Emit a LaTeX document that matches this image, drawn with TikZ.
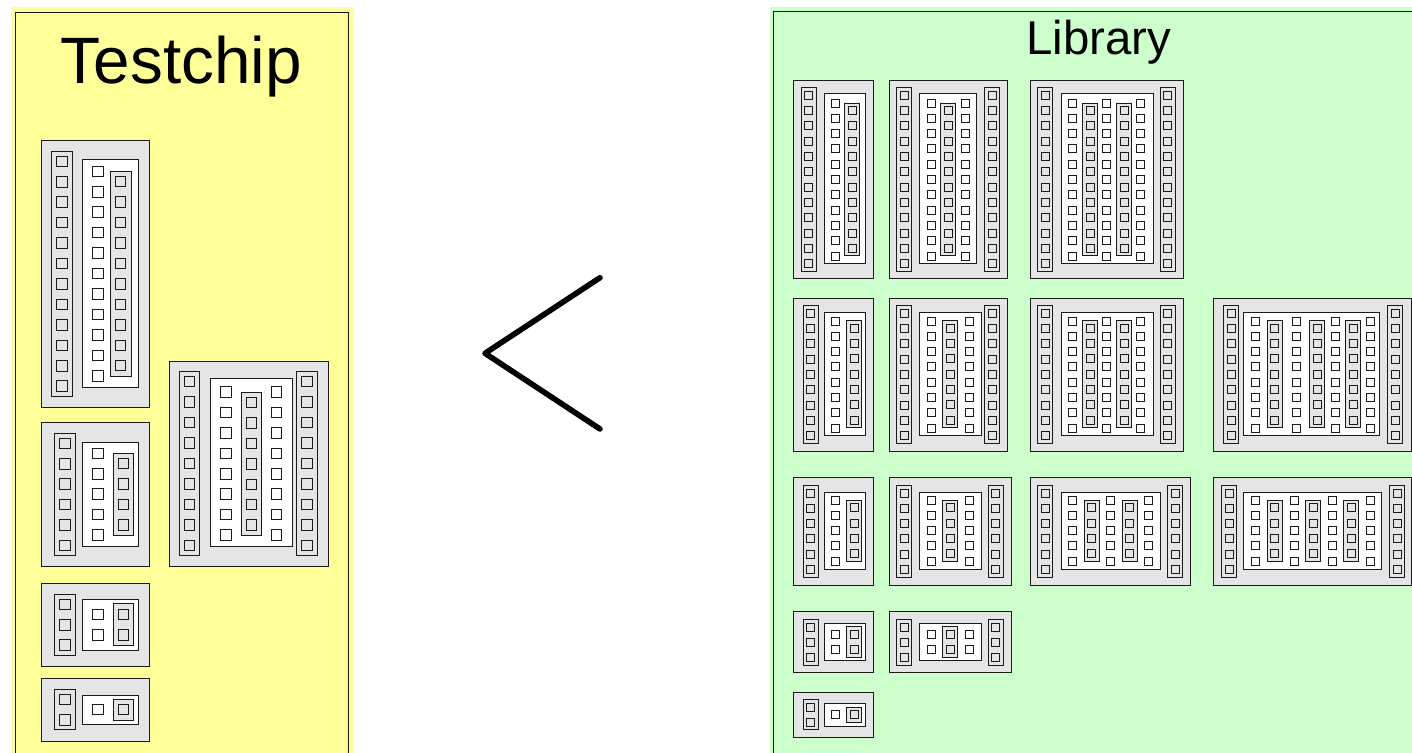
\documentclass[tikz,border=0pt]{standalone}
\usepackage{fontspec}
\setmainfont{Liberation Sans}
\definecolor{chipyellow}{HTML}{FFFF99}
\definecolor{libgreen}{HTML}{CCFFCC}
\definecolor{chipgray}{HTML}{E5E5E5}
\definecolor{edgecol}{HTML}{1A1A1A}
\tikzset{
  edge/.style={fill=edgecol},
  cellbox/.style={fill=chipgray},
  whitebox/.style={fill=white},
  graysq/.style={fill=chipgray},
  whitesq/.style={fill=white},
  title/.style={inner sep=0pt,anchor=base,text=black},
  chevron/.style={draw=black,line width=2.8pt,line cap=round,line join=round}
}
\newcommand{\Pitch}{15.33}
\newcommand{\Sq}{8}
\newcommand{\HW}{7.6}
% outlined rectangle on the pixel grid, outline built from two fills: style, x0, y0, x1, y1
\newcommand{\framedrect}[5]{%
  \pgfmathsetmacro{\xa}{round(#2-0.5)}%
  \pgfmathsetmacro{\ya}{round(#3-0.5)}%
  \pgfmathsetmacro{\xb}{round(#4-0.5)}%
  \pgfmathsetmacro{\yb}{round(#5-0.5)}%
  \fill[edge] ({\xa+0.05},{\ya+0.05}) rectangle ({\xb+0.95},{\yb+0.95});
  \fill[#1] ({\xa+1.05},{\ya+1.05}) rectangle ({\xb-0.05},{\yb-0.05});}
% squares: style, centre x, first centre y, count
\newcommand{\sqcol}[4]{%
  \foreach \i in {1,...,#4}{%
    \pgfmathsetmacro{\yy}{#3+(\i-1)*\Pitch}%
    \framedrect{#1}{#2-\Sq/2}{\yy-\Sq/2}{#2+\Sq/2}{\yy+\Sq/2}
  }}
% grey strip with squares: centre x, first centre y, count, padding
\newcommand{\strip}[4]{%
  \framedrect{graysq}{#1-\HW}{#2-#4}{#1+\HW}{#2+(#3-1)*\Pitch+#4}
  \sqcol{graysq}{#1}{#2}{#3}}
\newcommand{\cell}[4]{\framedrect{cellbox}{#1}{#2}{#3}{#4}}
\newcommand{\wbox}[4]{\framedrect{whitebox}{#1}{#2}{#3}{#4}}
\begin{document}
\begin{tikzpicture}[x=0.5pt,y=-0.5pt]
\clip (0,0) rectangle (1412,753);
\fill[white] (0,0) rectangle (1412,753);
% panels
\fill[chipyellow] (11.3,7) rectangle (354,770);
\framedrect{fill=chipyellow}{15.7}{12}{348.3}{780}
\fill[libgreen] (770,7) rectangle (1430,770);
\framedrect{fill=libgreen}{773.7}{11.7}{1440}{780}
\node[title,font=\fontsize{32.8pt}{33pt}\selectfont] (testchip) at (181.3,83.3) {Testchip};
\node[title,font=\fontsize{23.7pt}{24pt}\selectfont] (library) at (1098.7,55) {Library};
% comparison sign
\coordinate (chevtop) at (600,277.7);
\coordinate (chevtip) at (485,353.3);
\coordinate (chevbot) at (600,429);
\draw[chevron] (chevtop) -- (chevtip) -- (chevbot);

% ---------- Testchip ----------
\renewcommand{\Pitch}{20.45}\renewcommand{\Sq}{10.5}\renewcommand{\HW}{10.3}
% 12 rows
\cell{41}{140.7}{149.5}{407.3}
\strip{62}{161.3}{12}{10}
\wbox{82.7}{159.3}{138.7}{387.3}
\sqcol{whitesq}{98}{171.3}{11}
\strip{120.7}{181.7}{10}{10.4}
% 6 rows
\cell{41}{422.3}{149.5}{566}
\strip{65}{443.3}{6}{10.2}
\wbox{82.7}{442.7}{138.7}{546}
\sqcol{whitesq}{98}{453.3}{5}
\strip{123.3}{463.7}{4}{10}
% 9 rows, two strips
\cell{169.3}{361}{328}{566}
\strip{189.5}{381.7}{9}{10.5}
\strip{307}{381.7}{9}{10.5}
\wbox{210}{378.7}{292.7}{546}
\sqcol{whitesq}{226}{392}{8}
\sqcol{whitesq}{276.3}{392}{8}
\strip{251.3}{402.5}{7}{10}
% 3 rows
\cell{41}{583.7}{149.5}{666.3}
\strip{65}{604.3}{3}{10.2}
\wbox{82.7}{599.7}{138.7}{650}
\sqcol{whitesq}{98}{614.7}{2}
\strip{123.3}{614.7}{2}{10.8}
% 2 rows
\cell{41}{678.3}{149.5}{741}
\strip{65}{699.3}{2}{10.2}
\wbox{82.7}{695}{138.7}{724.7}
\sqcol{whitesq}{98}{709.7}{1}
\strip{123.3}{709.7}{1}{10.5}

% ---------- Library ----------
\renewcommand{\Pitch}{15.33}\renewcommand{\Sq}{8}\renewcommand{\HW}{7.6}
% row 1 (12 rows)
\cell{793}{80.3}{873.7}{278.7}
\strip{808.8}{95.3}{12}{8}
\wbox{824.3}{93.7}{865.7}{263.3}
\sqcol{whitesq}{835.3}{103}{11}
\strip{852.3}{110.5}{10}{7.4}

\cell{889}{80.3}{1007.7}{278.7}
\strip{904}{95.3}{12}{8}
\strip{992}{95.3}{12}{8}
\wbox{919.3}{93.7}{976.7}{263.3}
\sqcol{whitesq}{931}{103}{11}
\sqcol{whitesq}{965.3}{103}{11}
\strip{948.2}{110.5}{10}{7.4}

\cell{1030.7}{80.3}{1183}{278.7}
\strip{1045.2}{95.3}{12}{8}
\strip{1167.7}{95.3}{12}{8}
\wbox{1061}{93.7}{1153}{263.3}
\sqcol{whitesq}{1072.3}{103}{11}
\sqcol{whitesq}{1106.3}{103}{11}
\sqcol{whitesq}{1140.3}{103}{11}
\strip{1090}{110.5}{10}{7.4}
\strip{1124}{110.5}{10}{7.4}

% row 2 (9 rows)
\cell{793}{298}{873.7}{451.7}
\strip{810.7}{313.3}{9}{7.8}
\wbox{824.3}{312}{865.7}{435.3}
\sqcol{whitesq}{835.3}{321}{8}
\strip{854.2}{328.3}{7}{7.4}

\cell{889}{298}{1007.7}{451.7}
\strip{904}{313.3}{9}{7.8}
\strip{992}{313.3}{9}{7.8}
\wbox{919.3}{312}{981.3}{435.3}
\sqcol{whitesq}{931}{321}{8}
\sqcol{whitesq}{969}{321}{8}
\strip{950}{328.3}{7}{7.4}

\cell{1030.7}{298}{1183.3}{451.7}
\strip{1045.2}{313.3}{9}{7.8}
\strip{1167.7}{313.3}{9}{7.8}
\wbox{1061}{312}{1153}{435.3}
\sqcol{whitesq}{1072.3}{321}{8}
\sqcol{whitesq}{1106.3}{321}{8}
\sqcol{whitesq}{1140.3}{321}{8}
\strip{1090}{328.3}{7}{7.4}
\strip{1124}{328.3}{7}{7.4}

\cell{1213.3}{298}{1411}{451.7}
\strip{1231}{313.3}{9}{7.8}
\strip{1395.3}{313.3}{9}{7.8}
\wbox{1243.7}{312}{1379.7}{435.3}
\sqcol{whitesq}{1255.7}{321}{8}
\sqcol{whitesq}{1296}{321}{8}
\sqcol{whitesq}{1335.3}{321}{8}
\sqcol{whitesq}{1370.7}{321}{8}
\strip{1274.7}{328.3}{7}{7.4}
\strip{1317}{328.3}{7}{7.4}
\strip{1353}{328.3}{7}{7.4}

% row 3 (6 rows)
\cell{793}{477.7}{873.7}{585.3}
\strip{810.7}{493}{6}{7.8}
\wbox{824.3}{492.7}{865.7}{569.7}
\sqcol{whitesq}{835.3}{500}{5}
\strip{854.2}{507.7}{4}{7.6}

\cell{889}{477.7}{1011.7}{585.3}
\strip{904}{493}{6}{7.8}
\strip{995.7}{493}{6}{7.8}
\wbox{919.3}{492.7}{981.3}{569.7}
\sqcol{whitesq}{931}{500}{5}
\sqcol{whitesq}{969}{500}{5}
\strip{950}{507.7}{4}{7.6}

\cell{1030.7}{477.7}{1190.7}{585.3}
\strip{1045.2}{493}{6}{7.8}
\strip{1175.3}{493}{6}{7.8}
\wbox{1061}{492.7}{1160.3}{569.7}
\sqcol{whitesq}{1072.3}{500}{5}
\sqcol{whitesq}{1110.3}{500}{5}
\sqcol{whitesq}{1148.3}{500}{5}
\strip{1091.7}{507.7}{4}{7.6}
\strip{1129.7}{507.7}{4}{7.6}

\cell{1213.3}{477.7}{1411}{585.3}
\strip{1229}{493}{6}{7.8}
\strip{1397}{493}{6}{7.8}
\wbox{1243.7}{492.7}{1381.7}{569.7}
\sqcol{whitesq}{1255.7}{500}{5}
\sqcol{whitesq}{1294.3}{500}{5}
\sqcol{whitesq}{1332}{500}{5}
\sqcol{whitesq}{1370.7}{500}{5}
\strip{1274.7}{507.7}{4}{7.6}
\strip{1313}{507.7}{4}{7.6}
\strip{1351.3}{507.7}{4}{7.6}

% row 4 (3 rows)
\cell{793}{611.3}{873.7}{672.7}
\strip{810.7}{627}{3}{7.8}
\wbox{824.3}{623.3}{865.7}{660.7}
\sqcol{whitesq}{835.3}{634.3}{2}
\strip{854.2}{634.3}{2}{8.2}

\cell{889}{611.3}{1011.7}{672.7}
\strip{904}{627}{3}{7.8}
\strip{995.7}{627}{3}{7.8}
\wbox{919.3}{623.3}{981.3}{660.7}
\sqcol{whitesq}{931}{634.3}{2}
\sqcol{whitesq}{969}{634.3}{2}
\strip{950}{634.3}{2}{8.2}

% row 5 (2 rows)
\cell{793}{692}{873.7}{737.7}
\strip{810.7}{707}{2}{7.6}
\wbox{824.3}{703.3}{865.7}{726.7}
\sqcol{whitesq}{835.3}{714.7}{1}
\strip{854.2}{714.7}{1}{7.5}
\end{tikzpicture}
\end{document}
